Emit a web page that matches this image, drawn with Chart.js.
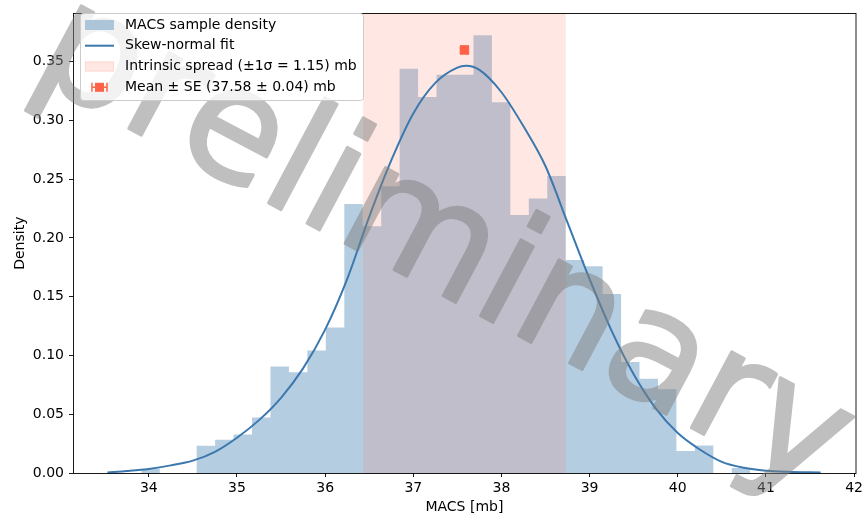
<!DOCTYPE html>
<html>
<head>
<meta charset="utf-8">
<script src="https://cdn.jsdelivr.net/npm/chart.js@4.4.1/dist/chart.umd.min.js"></script>
<style>
  html, body { margin: 0; padding: 0; background: #fff; }
  canvas { display: block; }
</style>
</head>
<body>
<canvas id="macsChart" width="866" height="516"></canvas>
<script>
// ---- data ----
const xTicks = [34, 35, 36, 37, 38, 39, 40, 41, 42];
const yTicks = [0, 0.05, 0.10, 0.15, 0.20, 0.25, 0.30, 0.35];

// histogram: first bin left edge + bin width, then the density of each bin
const binStart = 33.915;
const binWidth = 0.2093;
const density = [0.0036, 0, 0, 0.0232, 0.0282, 0.0327, 0.0472, 0.0906, 0.0858, 0.1043,
                 0.1238, 0.229, 0.210, 0.244, 0.344, 0.320, 0.339, 0.339, 0.3725, 0.3154,
                 0.2195, 0.2335, 0.2528, 0.1812, 0.176, 0.1523, 0.0945, 0.0802, 0.0713, 0.0187,
                 0.0235, 0, 0.0042];

// skew-normal fit curve
const fitX = [33.53, 33.75, 34.00, 34.25, 34.50, 34.75, 35.00, 35.25, 35.50, 35.75,
              36.00, 36.25, 36.50, 36.75, 37.00, 37.25, 37.50, 37.60, 37.75, 38.00,
              38.25, 38.50, 38.75, 39.00, 39.25, 39.50, 39.75, 40.00, 40.25, 40.50,
              40.75, 41.00, 41.25, 41.62];
const fitY = [0.0005, 0.0017, 0.0035, 0.0065, 0.0105, 0.018, 0.030, 0.045, 0.064, 0.089,
              0.122, 0.165, 0.218, 0.266, 0.306, 0.332, 0.345, 0.3465, 0.343, 0.324,
              0.295, 0.261, 0.213, 0.165, 0.121, 0.084, 0.055, 0.034, 0.020, 0.0095,
              0.0045, 0.002, 0.001, 0.0004];

const meanMacs = 37.58;
const meanSE = 0.04;
const meanMarkerY = 0.36;
const sigma = 1.15;

const legendLabels = [
    'MACS sample density',
    'Skew-normal fit',
    'Intrinsic spread (\u00b11\u03c3 = 1.15) mb',
    'Mean \u00b1 SE (37.58 \u00b1 0.04) mb'
];

// ---- styles ----
const FONT = '"DejaVu Sans", "Liberation Sans", sans-serif';
const barColor = 'rgba(70, 130, 180, 0.4)';
const lineColor = '#3b78ae';
const spanColor = 'rgba(255, 99, 71, 0.15)';
const meanColor = 'tomato';

// histogram as one stepped outline (left edge of each bin, closing at the last right edge)
const histPoints = density.map((d, i) => ({ x: binStart + i * binWidth, y: d }));
histPoints.push({ x: binStart + density.length * binWidth, y: 0 });
const fitPoints = fitX.map((x, i) => ({ x: x, y: fitY[i] }));

// span after the histogram, error bars for the mean, frame, then the watermark
const overlayPlugin = {
    id: 'overlay',
    afterDatasetDraw(chart, args) {
        const ctx = chart.ctx;
        const xs = chart.scales.x, ys = chart.scales.y;
        const area = chart.chartArea;
        if (args.index === 0) {
            const x0 = xs.getPixelForValue(meanMacs - sigma);
            const x1 = xs.getPixelForValue(meanMacs + sigma);
            ctx.save();
            ctx.fillStyle = spanColor;
            ctx.fillRect(x0, area.top, x1 - x0, area.bottom - area.top);
            ctx.restore();
        }
        if (args.index === 2) {
            const xa = xs.getPixelForValue(meanMacs - meanSE);
            const xb = xs.getPixelForValue(meanMacs + meanSE);
            const yc = ys.getPixelForValue(meanMarkerY);
            ctx.save();
            ctx.strokeStyle = meanColor;
            ctx.lineWidth = 1.5;
            ctx.beginPath();
            ctx.moveTo(xa, yc); ctx.lineTo(xb, yc);
            ctx.moveTo(xa, yc - 4.5); ctx.lineTo(xa, yc + 4.5);
            ctx.moveTo(xb, yc - 4.5); ctx.lineTo(xb, yc + 4.5);
            ctx.stroke();
            ctx.restore();
        }
    },
    afterDatasetsDraw(chart) {
        const ctx = chart.ctx;
        const a = chart.chartArea;
        ctx.save();
        ctx.strokeStyle = '#000';
        ctx.lineWidth = 0.9;
        ctx.strokeRect(Math.round(a.left) + 0.5, Math.round(a.top) + 0.5,
                       Math.round(a.right - a.left) - 0.5, Math.round(a.bottom - a.top));
        ctx.restore();

        // watermark: opaque grey text on a scratch canvas, pasted at half alpha
        const off = document.createElement('canvas');
        off.width = chart.canvas.width;
        off.height = chart.canvas.height;
        const o = off.getContext('2d');
        o.translate(423, 285);
        o.rotate(28 * Math.PI / 180);
        o.font = '157px ' + FONT;
        o.textAlign = 'center';
        o.textBaseline = 'alphabetic';
        o.fillStyle = 'rgb(128,128,128)';
        o.strokeStyle = 'rgb(128,128,128)';
        o.lineWidth = 3;
        o.lineJoin = 'round';
        o.fillText('preliminary', 0, 0);
        o.strokeText('preliminary', 0, 0);
        ctx.save();
        ctx.globalAlpha = 0.5;
        ctx.drawImage(off, 0, 0);
        ctx.restore();
    }
};

// matplotlib-like legend inside the axes, on top of everything
const legendPlugin = {
    id: 'boxLegend',
    afterDraw(chart) {
        const ctx = chart.ctx;
        ctx.save();
        const bx = 80.5, by = 13.5, bw = 283, bh = 87, r = 3;
        ctx.beginPath();
        ctx.moveTo(bx + r, by);
        ctx.arcTo(bx + bw, by, bx + bw, by + bh, r);
        ctx.arcTo(bx + bw, by + bh, bx, by + bh, r);
        ctx.arcTo(bx, by + bh, bx, by, r);
        ctx.arcTo(bx, by, bx + bw, by, r);
        ctx.closePath();
        ctx.fillStyle = 'rgba(255,255,255,0.8)';
        ctx.fill();
        ctx.strokeStyle = '#cccccc';
        ctx.lineWidth = 1;
        ctx.stroke();

        const rowY = [25, 45.7, 66.5, 87.3];
        const hx = 85, hw = 29;
        // handles
        ctx.fillStyle = barColor;
        ctx.fillRect(hx, rowY[0] - 5, hw, 10);

        ctx.strokeStyle = lineColor;
        ctx.lineWidth = 2;
        ctx.beginPath();
        ctx.moveTo(hx, rowY[1]); ctx.lineTo(hx + hw, rowY[1]);
        ctx.stroke();

        ctx.fillStyle = spanColor;
        ctx.strokeStyle = spanColor;
        ctx.lineWidth = 1;
        ctx.fillRect(hx, rowY[2] - 5, hw, 10);
        ctx.strokeRect(hx + 0.5, rowY[2] - 4.5, hw - 1, 9);

        const cx = hx + hw / 2;
        ctx.strokeStyle = meanColor;
        ctx.lineWidth = 1.5;
        ctx.beginPath();
        ctx.moveTo(cx - 7.5, rowY[3]); ctx.lineTo(cx + 7.5, rowY[3]);
        ctx.moveTo(cx - 7.5, rowY[3] - 4.5); ctx.lineTo(cx - 7.5, rowY[3] + 4.5);
        ctx.moveTo(cx + 7.5, rowY[3] - 4.5); ctx.lineTo(cx + 7.5, rowY[3] + 4.5);
        ctx.stroke();
        ctx.fillStyle = meanColor;
        ctx.fillRect(cx - 4.5, rowY[3] - 4.5, 9, 9);

        // labels
        ctx.fillStyle = '#000';
        ctx.font = '14px ' + FONT;
        ctx.textBaseline = 'middle';
        ctx.textAlign = 'left';
        legendLabels.forEach((t, i) => ctx.fillText(t, 125, rowY[i]));
        ctx.restore();
    }
};

new Chart(document.getElementById('macsChart'), {
    type: 'line',
    data: {
        datasets: [
            {
                label: legendLabels[0],
                data: histPoints,
                stepped: 'before',
                fill: 'origin',
                backgroundColor: barColor,
                borderWidth: 0,
                borderColor: 'rgba(0,0,0,0)',
                pointRadius: 0,
                order: 3
            },
            {
                label: legendLabels[1],
                data: fitPoints,
                borderColor: lineColor,
                borderWidth: 2,
                pointRadius: 0,
                fill: false,
                cubicInterpolationMode: 'monotone',
                order: 2
            },
            {
                type: 'scatter',
                label: legendLabels[3],
                data: [{ x: meanMacs, y: meanMarkerY }],
                pointStyle: 'rect',
                pointRadius: 6,
                borderWidth: 1,
                backgroundColor: meanColor,
                borderColor: meanColor,
                order: 1
            }
        ]
    },
    options: {
        responsive: false,
        animation: false,
        layout: { padding: { left: 0, right: 10, top: 7, bottom: 0 } },
        plugins: {
            legend: { display: false },
            tooltip: { enabled: false }
        },
        scales: {
            x: {
                type: 'linear',
                min: 33.14,
                max: 42.02,
                offset: false,
                afterBuildTicks: s => { s.ticks = xTicks.map(v => ({ value: v })); },
                afterFit: s => { s.height = 43; },
                grid: { display: true, drawOnChartArea: false, offset: false, color: '#000', lineWidth: 0.9, tickLength: 4 },
                border: { display: false },
                ticks: { autoSkip: false, maxRotation: 0, padding: 3, color: '#000', font: { family: FONT, size: 14 } },
                title: { display: true, text: 'MACS [mb]', color: '#000', padding: { top: 0, bottom: 0 }, font: { family: FONT, size: 14 } }
            },
            y: {
                type: 'linear',
                min: 0,
                max: 0.3911,
                afterBuildTicks: s => { s.ticks = yTicks.map(v => ({ value: v })); },
                afterFit: s => { s.width = 73; },
                grid: { display: true, drawOnChartArea: false, color: '#000', lineWidth: 0.9, tickLength: 4 },
                border: { display: false },
                ticks: { autoSkip: false, padding: 5, color: '#000', font: { family: FONT, size: 14 }, callback: v => v.toFixed(2) },
                title: { display: true, text: 'Density', color: '#000', padding: { top: 12, bottom: 0 }, font: { family: FONT, size: 14 } }
            }
        }
    },
    plugins: [overlayPlugin, legendPlugin]
});
</script>
</body>
</html>
